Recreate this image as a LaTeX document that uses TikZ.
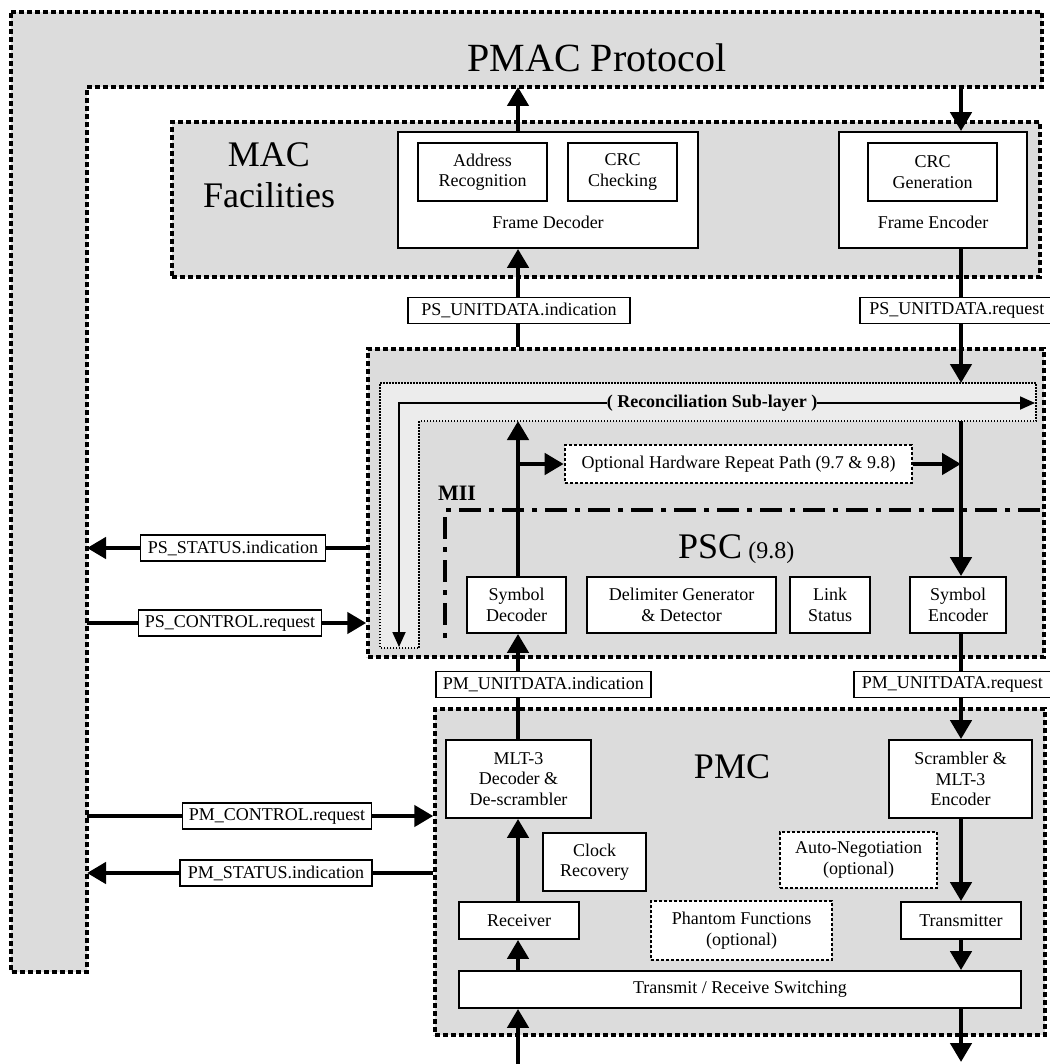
\documentclass[tikz,border=0pt]{standalone}
\usepackage{fontspec}
\setmainfont{Liberation Serif}
\usetikzlibrary{arrows.meta,calc}
\definecolor{regiongray}{RGB}{220,220,220}
\definecolor{bandgray}{RGB}{236,236,236}
\pgfdeclarelayer{back}
\pgfdeclarelayer{mid}
\pgfsetlayers{back,mid,main}
\begin{document}
\begin{tikzpicture}[x=1pt,y=-1pt,
  region/.style={draw,line width=3.5pt,dash pattern=on 5pt off 3pt,fill=regiongray,inner sep=0pt},
  blk/.style={draw,line width=1.8pt,fill=white,inner sep=0pt,align=center,
              font=\fontsize{18}{20.5}\selectfont},
  optblk/.style={blk,line width=2.6pt,dash pattern=on 3pt off 2pt},
  sig/.style={draw,line width=1.6pt,fill=white,inner xsep=5pt,inner ysep=0pt,
              minimum height=26pt,font=\fontsize{18}{20.5}\selectfont},
  lbl/.style={inner sep=0pt,font=\fontsize{18}{20.5}\selectfont},
  big/.style={inner sep=0pt,font=\fontsize{36}{40}\selectfont},
  flow/.style={line width=4.5pt,-{Triangle[length=19pt,width=21pt]}},
  rsflow/.style={line width=1.8pt,{Triangle[length=15pt,width=13pt]}-{Triangle[length=15pt,width=13pt]}},
  miiline/.style={line width=4.5pt,dash pattern=on 22pt off 8pt on 5pt off 8pt}
]
\useasboundingbox (0,0) rectangle (1049,1064);

% ---------- layer areas ----------
\begin{pgfonlayer}{back}
  \draw[region] (11,12) -- (1042,12) -- (1042,87) -- (87,87) -- (87,972) -- (11,972) -- cycle;
  \node[region,minimum width=868pt,minimum height=155pt] (mac) at (606,199.5) {};
  \node[region,minimum width=676pt,minimum height=308pt] (psc) at (706,503) {};
  \node[region,minimum width=610pt,minimum height=326pt] (pmc) at (740,872) {};
  % reconciliation sub-layer band
  \draw[fill=bandgray,line width=1.2pt,dash pattern=on 1.5pt off 1.5pt]
    (380,383) -- (1036,383) -- (1036,421) -- (419,421) -- (419,648) -- (380,648) -- cycle;
  % MII boundary
  \draw[miiline] (1040,510) -- (445,510) -- (445,645);
\end{pgfonlayer}

% ---------- titles ----------
\node[anchor=base,inner sep=0pt,font=\fontsize{40}{44}\selectfont] (pmact) at (597,72) {PMAC Protocol};
\node[big,anchor=base] (macA) at (269,167) {MAC};
\node[big,anchor=base] (macB) at (269,208) {Facilities};
\node[big,anchor=base west] (psct) at (678,558) {PSC{\fontsize{24}{26}\selectfont\ (9.8)}};
\node[big,anchor=base] (pmct) at (732,778) {PMC};
\node[anchor=base,inner sep=0pt,font=\bfseries\fontsize{22}{24}\selectfont] (mii) at (457,500) {MII};

% ---------- MAC facilities ----------
\node[blk,minimum width=300pt,minimum height=116pt] (fdec) at (548,190) {};
\node[blk,minimum width=129pt,minimum height=58pt] (addr) at (482.5,172) {Address\\Recognition};
\node[blk,minimum width=109pt,minimum height=58pt] (crcc) at (622.5,172) {CRC\\Checking};
\node[lbl] (fdecl) at (548,222) {Frame Decoder};
\node[blk,minimum width=188pt,minimum height=116pt] (fenc) at (933,190) {};
\node[blk,minimum width=129pt,minimum height=58pt] (crcg) at (932.5,172) {CRC\\Generation};
\node[lbl] (fencl) at (933,222) {Frame Encoder};

% ---------- PSC ----------
\node[optblk,minimum width=347pt,minimum height=38pt] (ohr) at (738.5,464) {Optional Hardware Repeat Path (9.7 \& 9.8)};
\node[blk,minimum width=99pt,minimum height=56pt] (sdec) at (516.5,605) {Symbol\\Decoder};
\node[blk,minimum width=189pt,minimum height=56pt] (delim) at (681.5,605) {Delimiter Generator\\\& Detector};
\node[blk,minimum width=80pt,minimum height=56pt] (link) at (830,605) {Link\\Status};
\node[blk,minimum width=96pt,minimum height=56pt] (senc) at (958,605) {Symbol\\Encoder};

% ---------- PMC ----------
\node[blk,minimum width=145pt,minimum height=78pt] (mlt) at (518.5,779) {MLT-3\\Decoder \&\\De-scrambler};
\node[blk,minimum width=143pt,minimum height=78pt] (scr) at (960.5,779) {Scrambler \&\\MLT-3\\Encoder};
\node[blk,minimum width=103pt,minimum height=58pt] (clk) at (594.5,862) {Clock\\Recovery};
\node[optblk,minimum width=157pt,minimum height=56pt] (auto) at (858.5,860) {Auto-Negotiation\\(optional)};
\node[blk,minimum width=120pt,minimum height=37pt] (rx) at (519,920.5) {Receiver};
\node[optblk,minimum width=181pt,minimum height=59pt] (phan) at (741.5,930.5) {Phantom Functions\\(optional)};
\node[blk,minimum width=120pt,minimum height=37pt] (tx) at (961,920.5) {Transmitter};
\node[blk,minimum width=562pt,minimum height=37pt] (trs) at (740,989.5) {Transmit / Receive Switching};

% ---------- service primitives ----------
\node[sig,minimum width=222pt] (psuind) at (519,310.5) {PS\_UNITDATA.indication};
\node[sig,anchor=west,minimum width=194pt] (psureq) at (859,310.5) {PS\_UNITDATA.request};
\node[sig,minimum width=185pt] (psstat) at (233,548) {PS\_STATUS.indication};
\node[sig,minimum width=183pt] (psctl) at (230,623) {PS\_CONTROL.request};
\node[sig,anchor=west,minimum width=215pt] (pmuind) at (435,684.5) {PM\_UNITDATA.indication};
\node[sig,anchor=west,minimum width=197pt] (pmureq) at (853,684.5) {PM\_UNITDATA.request};
\node[sig,minimum width=189pt] (pmctl) at (277,816) {PM\_CONTROL.request};
\node[sig,minimum width=192pt] (pmstat) at (276,873) {PM\_STATUS.indication};

% reconciliation sub-layer label
\node[fill=bandgray,inner xsep=0pt,inner ysep=1pt,font=\bfseries\fontsize{18}{20}\selectfont] (rsl) at (712,403) {( Reconciliation Sub-layer )};

% ---------- reference points ----------
\coordinate (colL) at (518,0);
\coordinate (colR) at (961,0);
\coordinate (pmacR) at (87,0);
\coordinate (pmacIn) at (518,87);
\coordinate (pmacOut) at (961,87);
\coordinate (rsTopR) at (961,383);
\coordinate (rsBotR) at (961,421);
\coordinate (rsBotL) at (518,421);
\coordinate (phyIn) at (518,1066);
\coordinate (phyOut) at (961,1062);
\coordinate (rsEnd) at (1035,403);
\coordinate (rsCorner) at (399,403);
\coordinate (rsDown) at (399,647);

% ---------- connectors ----------
\begin{pgfonlayer}{mid}
  \draw[flow] (fdec.north -| colL) -- (pmacIn);
  \draw[flow] (pmacOut) -- (fenc.north -| colR);
  \draw[flow] (psc.north -| colL) -- (fdec.south -| colL);
  \draw[flow] (fenc.south -| colR) -- (rsTopR);
  \draw[flow] (rsBotR) -- (senc.north -| colR);
  \draw[flow] (sdec.north -| colL) -- (rsBotL);
  \draw[flow] (ohr.west -| colL) -- (ohr.west);
  \draw[flow] (ohr.east) -- (ohr.east -| colR);
  \draw[flow] (psstat -| psc.west) -- (psstat -| pmacR);
  \draw[flow] (psctl -| pmacR) -- (psctl -| psc.west);
  \draw[flow] (mlt.north -| colL) -- (sdec.south -| colL);
  \draw[flow] (senc.south -| colR) -- (scr.north -| colR);
  \draw[flow] (pmctl -| pmacR) -- (pmctl -| pmc.west);
  \draw[flow] (pmstat -| pmc.west) -- (pmstat -| pmacR);
  \draw[flow] (scr.south -| colR) -- (tx.north -| colR);
  \draw[flow] (tx.south -| colR) -- (trs.north -| colR);
  \draw[flow] (trs.south -| colR) -- (phyOut);
  \draw[flow] (phyIn) -- (trs.south -| colL);
  \draw[flow] (trs.north -| colL) -- (rx.south -| colL);
  \draw[flow] (rx.north -| colL) -- (mlt.south -| colL);
  \draw[rsflow] (rsDown) -- (rsCorner) -- (rsEnd);
\end{pgfonlayer}
\end{tikzpicture}
\end{document}
